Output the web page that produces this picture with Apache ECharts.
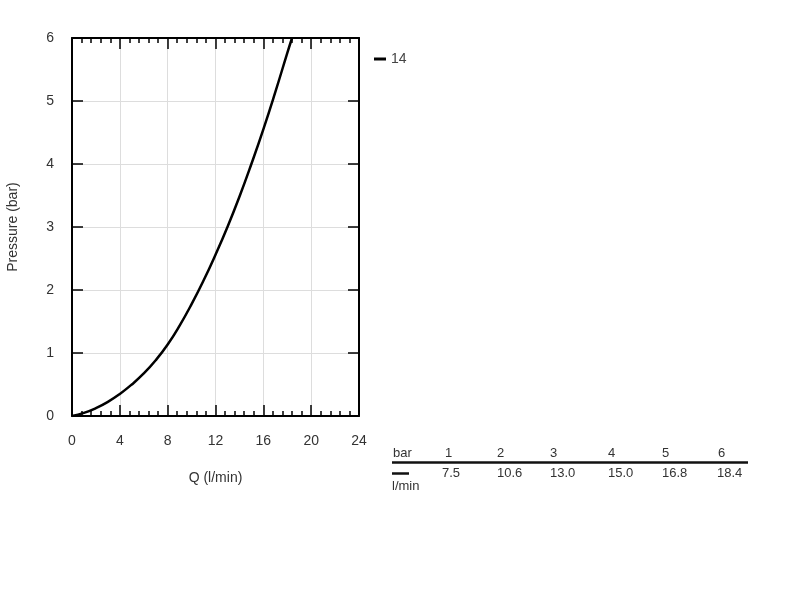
<!DOCTYPE html>
<html><head><meta charset="utf-8">
<script src="https://cdn.jsdelivr.net/npm/echarts@6/dist/echarts.min.js"></script>
<style>html,body{margin:0;padding:0;background:#fff}#c{width:800px;height:600px}</style>
</head><body><div id="c"></div>
<script>
// Curve: flow Q (l/min) and pressure (bar)
const curveQ = [0, 1, 2, 3, 4, 5, 6, 7, 8, 9, 10, 11, 12, 13, 14, 15, 16, 17, 18, 18.4];
const curveP = [0, 0.05, 0.125, 0.225, 0.35, 0.5, 0.675, 0.885, 1.135, 1.435, 1.775, 2.15, 2.56, 3.0, 3.48, 4.0, 4.55, 5.14, 5.76, 6.0];
const seriesName = '14';
// Table
const tablePressure = ['1', '2', '3', '4', '5', '6'];
const tableFlow = ['7.5', '10.6', '13.0', '15.0', '16.8', '18.4'];
const xTickLabels = [0, 4, 8, 12, 16, 20, 24];
const yTickLabels = [0, 1, 2, 3, 4, 5, 6];

const chart = echarts.init(document.getElementById('c'));
const font = 'Liberation Sans, Arial, sans-serif';
const colX = [445, 497, 550, 608, 662, 718];
const colXv = [442, 497, 550, 608, 662, 717];

const graphics = [
  {type:'text', left:393, top:447, style:{text:'bar', font:'13px ' + font, fill:'#333'}},
  {type:'line', shape:{x1:392, y1:462.5, x2:748, y2:462.5}, style:{stroke:'#111', lineWidth:2.5}},
  {type:'line', shape:{x1:392, y1:473.5, x2:409, y2:473.5}, style:{stroke:'#111', lineWidth:2.5}},
  {type:'text', left:392, top:480, style:{text:'l/min', font:'13px ' + font, fill:'#333'}}
];
tablePressure.forEach((t, i) => graphics.push({type:'text', left:colX[i], top:447, style:{text:t, font:'13px ' + font, fill:'#333'}}));
tableFlow.forEach((t, i) => graphics.push({type:'text', left:colXv[i], top:467, style:{text:t, font:'13px ' + font, fill:'#333'}}));

const axisCommon = {
  type: 'value',
  axisLine: {show: true, onZero: false, lineStyle: {color: '#000', width: 2}},
  axisTick: {show: true, inside: true, length: 11, lineStyle: {color: '#000', width: 1.5}},
  axisLabel: {color: '#333', fontSize: 14, fontFamily: font},
  nameTextStyle: {color: '#333', fontSize: 14, fontFamily: font}
};

chart.setOption({
  animation: false,
  textStyle: {fontFamily: font},
  legend: {
    left: 369, top: 47, icon: 'rect', itemWidth: 12, itemHeight: 3, itemGap: 4,
    textStyle: {color: '#444', fontSize: 14, fontFamily: font},
    data: [seriesName]
  },
  grid: {left: 72, top: 38, width: 287, height: 378},
  xAxis: [
    Object.assign({}, axisCommon, {
      min: 0, max: 24, interval: 4, position: 'bottom',
      name: 'Q (l/min)', nameLocation: 'middle', nameGap: 55,
      axisLabel: Object.assign({}, axisCommon.axisLabel, {margin: 18, formatter: v => xTickLabels.includes(v) ? String(v) : ''}),
      minorTick: {show: true, splitNumber: 5, length: 5, lineStyle: {color: '#000', width: 1.5}},
      splitLine: {show: true, lineStyle: {color: '#ddd', width: 1}}
    }),
    Object.assign({}, axisCommon, {
      min: 0, max: 24, interval: 4, position: 'top',
      axisLabel: {show: false},
      minorTick: {show: true, splitNumber: 5, length: 5, lineStyle: {color: '#000', width: 1.5}},
      splitLine: {show: false}
    })
  ],
  yAxis: [
    Object.assign({}, axisCommon, {
      min: 0, max: 6, interval: 1, position: 'left',
      name: 'Pressure (bar)', nameLocation: 'middle', nameGap: 52, nameRotate: 90,
      axisLabel: Object.assign({}, axisCommon.axisLabel, {margin: 18, formatter: v => yTickLabels.includes(v) ? String(v) : ''}),
      splitLine: {show: true, lineStyle: {color: '#ddd', width: 1}}
    }),
    Object.assign({}, axisCommon, {
      min: 0, max: 6, interval: 1, position: 'right',
      axisLabel: {show: false},
      splitLine: {show: false}
    })
  ],
  series: [{
    name: seriesName, type: 'line', smooth: true, showSymbol: false,
    xAxisIndex: 0, yAxisIndex: 0,
    lineStyle: {color: '#000', width: 2.5}, itemStyle: {color: '#000'},
    data: curveQ.map((q, i) => [q, curveP[i]])
  }],
  graphic: graphics
});
</script></body></html>
